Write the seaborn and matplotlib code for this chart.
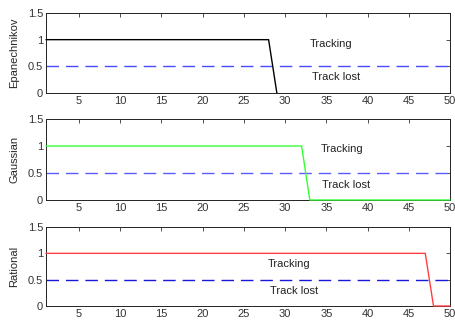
import numpy as np
import pandas as pd
import matplotlib
matplotlib.use("Agg")
import matplotlib.pyplot as plt
import seaborn as sns

# Tracking state per frame (1 = tracking, 0 = lost)
frames_epan = list(range(1, 30))
state_epan = [1] * 28 + [0]
frames_gauss = list(range(1, 51))
state_gauss = [1] * 32 + [0] * 18
frames_rat = list(range(1, 51))
state_rat = [1] * 47 + [0] * 3

threshold = 0.5
kernel_names = ["Epanechnikov", "Gaussian", "Rational"]
x_ticks = [5, 10, 15, 20, 25, 30, 35, 40, 45, 50]
y_ticks = [0, 0.5, 1, 1.5]
y_ticklabels = ["0", "0.5", "1", "1.5"]

sns.set_style("white")
plt.rcParams['font.family'] = ['Liberation Sans', 'DejaVu Sans']
plt.rcParams['font.size'] = 8

fig = plt.figure(figsize=(4.55, 3.24), dpi=100)
W, H = 455, 324
# axes boxes in pixels: left, top, right, bottom
boxes = [(46, 13, 450, 93), (46, 119, 450, 200), (46, 227, 450, 306)]

series = [
    (frames_epan, state_epan, "black", "#4a4aff", (33, 0.92), (33.3, 0.3)),
    (frames_gauss, state_gauss, "#33ff33", "#5a5aff", (34.3, 0.94), (34.5, 0.28)),
    (frames_rat, state_rat, "#ff4040", "#1818d8", (27.9, 0.8), (28.2, 0.29)),
]

for i, (box, (fx, fy, col, dcol, t1, t2)) in enumerate(zip(boxes, series)):
    l, t, r, b = box
    ax = fig.add_axes([l / W, 1 - b / H, (r - l) / W, (b - t) / H])
    df = pd.DataFrame({"frame": fx, "state": fy})
    sns.lineplot(data=df, x="frame", y="state", color=col, lw=1.0, ax=ax)
    for ln in ax.lines:
        ln.set_clip_on(False)
        ln.set_zorder(5)
    ax.axhline(threshold, color=dcol, ls=(0, (9, 5)), lw=1.0)
    ax.text(t1[0], t1[1], "Tracking", va="center", ha="left", fontsize=8, color="#222222")
    ax.text(t2[0], t2[1], "Track lost", va="center", ha="left", fontsize=8, color="#222222")
    ax.set_xlim(1, 50)
    ax.set_ylim(0, 1.5)
    ax.set_xticks(x_ticks)
    ax.set_yticks(y_ticks)
    ax.set_yticklabels(y_ticklabels)
    ax.set_xlabel("")
    ax.set_ylabel(kernel_names[i], fontsize=8)
    ax.tick_params(direction="in", top=True, right=True, length=3, width=0.6,
                   labelsize=8, colors="#333333", pad=2)
    for s in ax.spines.values():
        s.set_color("#222222")
        s.set_linewidth(0.7)
    ax.yaxis.labelpad = 6

fig.savefig("out.png", dpi=100, facecolor="white")
